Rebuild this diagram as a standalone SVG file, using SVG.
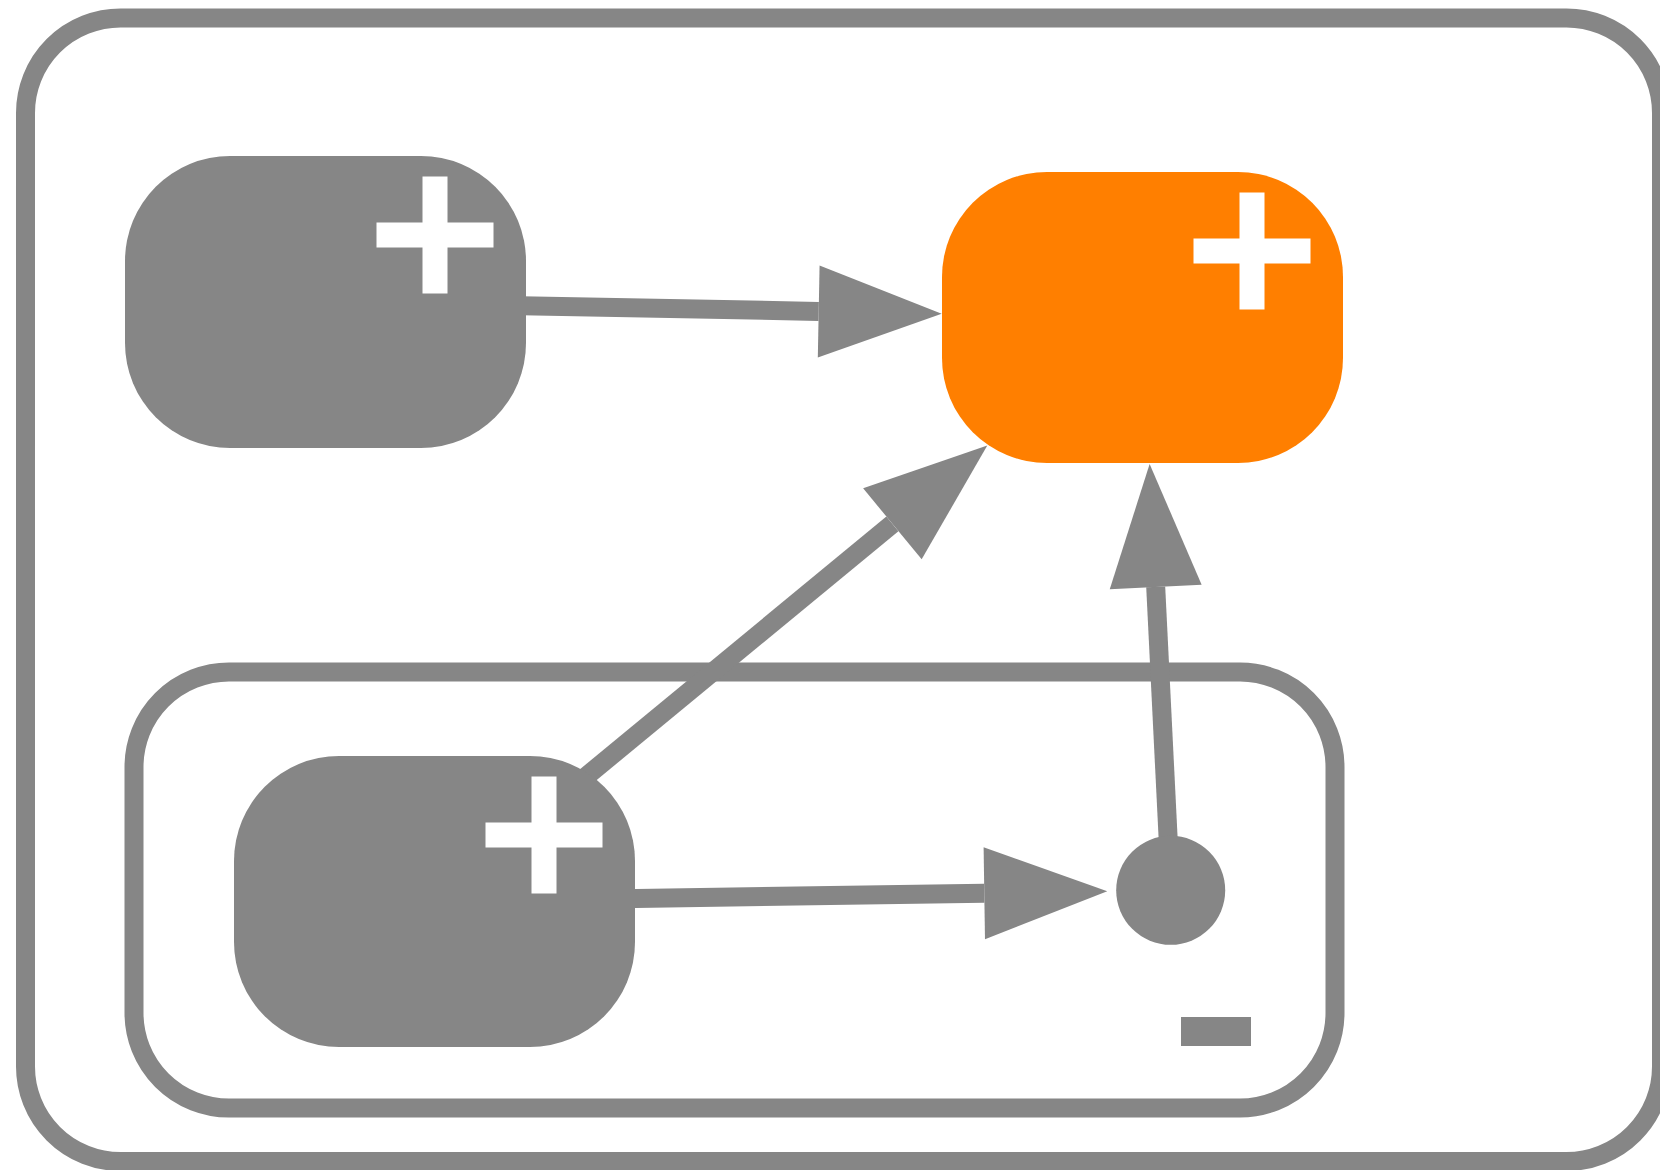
<svg xmlns="http://www.w3.org/2000/svg" width="1660" height="1170" viewBox="0 0 1660 1170">
  <style>
    .compound { fill: #ffffff; stroke: #868686; stroke-width: 19; }
    .node { fill: #868686; }
    .node-hl { fill: #ff7f00; }
    .icon { fill: #ffffff; }
    .icon-dark { fill: #868686; }
    .edge { stroke: #868686; stroke-width: 19; fill: none; stroke-linecap: butt; }
  </style>
  <defs>
    <marker id="arrow" markerUnits="userSpaceOnUse" markerWidth="124" markerHeight="94" viewBox="0 -47 124 94" refX="0" refY="0" orient="auto" overflow="visible">
      <path d="M0,-46 L123,0 L0,46 Z" fill="#868686"/>
    </marker>
  </defs>

  <g id="compound-outer">
    <rect class="compound" x="25.5" y="18" width="1636" height="1143.5" rx="95" ry="95"/>
  </g>
  <g id="compound-inner">
    <rect class="compound" x="134" y="672" width="1201" height="436" rx="95" ry="95"/>
  </g>

  <g id="connectors">
    <line class="edge" x1="325.5" y1="302" x2="818.7" y2="311.4" marker-end="url(#arrow)"/>
    <line class="edge" x1="434.5" y1="901.5" x2="892.4" y2="523.8" marker-end="url(#arrow)"/>
    <line class="edge" x1="434.5" y1="901.5" x2="984.3" y2="893.2" marker-end="url(#arrow)"/>
    <line class="edge" x1="1170.7" y1="890.3" x2="1155.7" y2="586.9" marker-end="url(#arrow)"/>
  </g>

  <g id="node-a">
    <rect class="node" x="125" y="156" width="401" height="292" rx="105" ry="105"/>
    <rect class="icon" x="422.5" y="176.5" width="25" height="117"/>
    <rect class="icon" x="376.5" y="222.5" width="117" height="25"/>
  </g>

  <g id="node-target">
    <rect class="node-hl" x="942" y="172" width="401" height="291" rx="105" ry="105"/>
    <rect class="icon" x="1239.5" y="192.5" width="25" height="117"/>
    <rect class="icon" x="1193.5" y="238.5" width="117" height="25"/>
  </g>

  <g id="node-b">
    <rect class="node" x="234" y="756" width="401" height="291" rx="105" ry="105"/>
    <rect class="icon" x="531.5" y="776.5" width="25" height="117"/>
    <rect class="icon" x="485.5" y="822.5" width="117" height="25"/>
  </g>

  <g id="node-c">
    <circle class="node" cx="1170.7" cy="890.3" r="54.5"/>
  </g>

  <g id="compound-inner-toggle">
    <rect class="icon-dark" x="1181" y="1017" width="70" height="29"/>
  </g>
</svg>
